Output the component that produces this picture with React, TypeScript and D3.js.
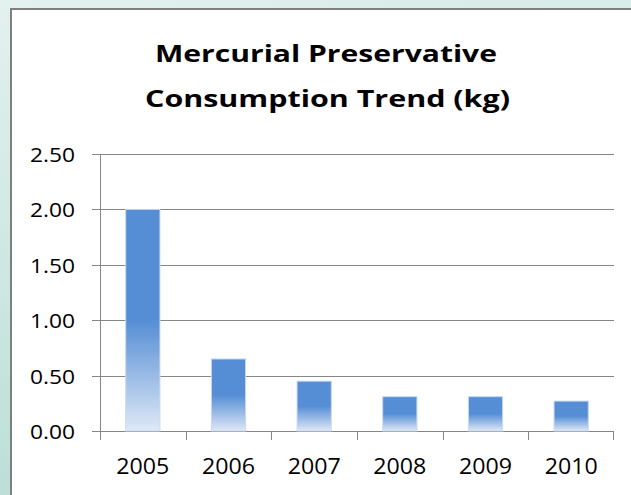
import React from "react";
import * as d3 from "d3";

const years = ["2005", "2006", "2007", "2008", "2009", "2010"];
const values = [2.0, 0.65, 0.45, 0.31, 0.31, 0.27];
const yTicks = [0, 0.5, 1.0, 1.5, 2.0, 2.5];
const titleLines = ["Mercurial Preservative", "Consumption Trend (kg)"];

const W = 631;
const H = 495;
const M = { left: 100, right: 614, top: 154, bottom: 431 };

export default function App() {
  const x = d3.scaleBand<string>().domain(years).range([M.left, M.right]).paddingInner(0.6).paddingOuter(0.3);
  const y = d3.scaleLinear().domain([0, 2.5]).range([M.bottom, M.top]);
  const step = x.step();
  const font = "'Open Sans', Calibri, sans-serif";

  return (
    <svg width={W} height={H} style={{ position: "absolute", left: 0, top: 0 }}>
      <defs>
        <linearGradient id="bg" x1="0" y1="0" x2="0.3" y2="1">
          <stop offset="0%" stopColor="#e3f1ef" />
          <stop offset="100%" stopColor="#b9ddd6" />
        </linearGradient>
        <linearGradient id="bar" x1="0" y1="0" x2="0" y2="1">
          <stop offset="0%" stopColor="#558ed5" />
          <stop offset="50%" stopColor="#558ed5" />
          <stop offset="100%" stopColor="#dfe8f6" />
        </linearGradient>
      </defs>
      <rect x={0} y={0} width={W} height={H} fill="url(#bg)" />
      <rect x={11} y={9} width={W + 10} height={H + 10} fill="#ffffff" stroke="#7f7f7f" strokeWidth={2} />

      <g fontFamily={font} fontWeight="bold" fontSize={24} fill="#000" textAnchor="middle">
        <text x={326} y={62} textLength={342} lengthAdjust="spacingAndGlyphs">{titleLines[0]}</text>
        <text x={327.5} y={107} textLength={365} lengthAdjust="spacingAndGlyphs">{titleLines[1]}</text>
      </g>

      {/* gridlines and y ticks */}
      <g stroke="#868686" strokeWidth={1}>
        {yTicks.map((t) => (
          <line key={t} x1={M.left - 8} x2={M.right} y1={Math.round(y(t)) + 0.5} y2={Math.round(y(t)) + 0.5} />
        ))}
        <line x1={M.left + 0.5} x2={M.left + 0.5} y1={y(2.5)} y2={y(0)} />
        {years.map((yr, i) => {
          const tx = Math.round(M.left + i * step) + 0.5;
          return <line key={yr} x1={tx} x2={tx} y1={y(0)} y2={y(0) + 9} />;
        })}
        <line x1={M.right - 0.5} x2={M.right - 0.5} y1={y(0)} y2={y(0) + 9} />
      </g>

      {/* bars */}
      {years.map((yr, i) => (
        <rect
          key={yr}
          x={x(yr)}
          y={y(values[i])}
          width={x.bandwidth()}
          height={y(0) - y(values[i])}
          fill="url(#bar)"
          stroke="#c9daf1"
          strokeWidth={1}
        />
      ))}

      {/* y labels */}
      <g fontFamily={font} fontSize={20.5} fill="#000" textAnchor="end">
        {yTicks.map((t) => (
          <text key={t} x={75} y={y(t)} dominantBaseline="central" textLength={45} lengthAdjust="spacingAndGlyphs">
            {d3.format(".2f")(t)}
          </text>
        ))}
      </g>

      {/* x labels */}
      <g fontFamily={font} fontSize={21} fill="#000" textAnchor="middle">
        {years.map((yr) => (
          <text key={yr} x={(x(yr) as number) + x.bandwidth() / 2} y={474} textLength={53} lengthAdjust="spacingAndGlyphs">
            {yr}
          </text>
        ))}
      </g>
    </svg>
  );
}
